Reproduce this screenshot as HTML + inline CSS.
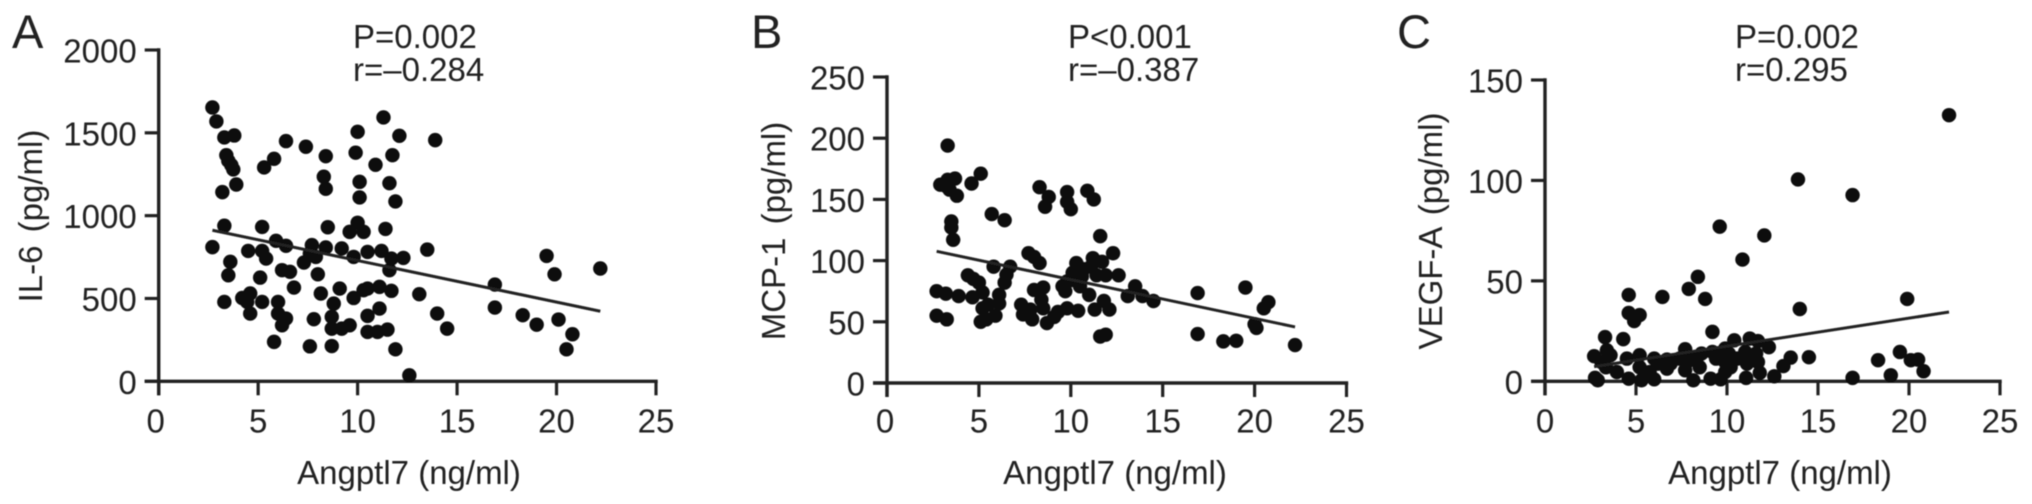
<!DOCTYPE html>
<html lang="en">
<head>
<meta charset="utf-8">
<title>Angptl7 correlation scatter plots</title>
<style>
html,body{margin:0;padding:0;background:#fff;}
svg{display:block;}
text{font-family:"Liberation Sans",Arial,sans-serif;fill:#222;font-size:33px;}
.letter{font-size:47px;}
.ytitle{word-spacing:4px;}
</style>
</head>
<body>
<svg id="figure" xmlns="http://www.w3.org/2000/svg" width="2032" height="504" viewBox="0 0 2032 504">
<defs><filter id="soft" x="-2%" y="-2%" width="104%" height="104%"><feGaussianBlur stdDeviation="0.55"/></filter></defs>
<g filter="url(#soft)">
<g id="panelA">
<text class="letter" x="12" y="48">A</text>
<text x="353" y="48">P=0.002</text>
<text x="353" y="81">r=–0.284</text>
<text class="ytitle" text-anchor="middle" transform="translate(42 216) rotate(-90)">IL-6 (pg/ml)</text>
<text text-anchor="middle" x="409" y="484">Angptl7 (ng/ml)</text>
</g>
<g id="panelB">
<text class="letter" x="751" y="48">B</text>
<text x="1068" y="48">P&lt;0.001</text>
<text x="1068" y="81">r=–0.387</text>
<text class="ytitle" text-anchor="middle" transform="translate(785 231) rotate(-90)">MCP-1 (pg/ml)</text>
<text text-anchor="middle" x="1115" y="484">Angptl7 (ng/ml)</text>
</g>
<g id="panelC">
<text class="letter" x="1397" y="48">C</text>
<text x="1735" y="48">P=0.002</text>
<text x="1735" y="81">r=0.295</text>
<text class="ytitle" text-anchor="middle" transform="translate(1442 231) rotate(-90)">VEGF-A (pg/ml)</text>
<text text-anchor="middle" x="1780" y="484">Angptl7 (ng/ml)</text>
</g>
</g>
</svg>
<script>
const xTicks = [0, 5, 10, 15, 20, 25];

const aTicks = [0, 500, 1000, 1500, 2000];
const aX = [2.7,2.9,3.3,3.8,6.4,7.4,8.4,5.8,5.3,3.4,3.5,3.65,3.75,3.9,3.2,8.3,8.4,11.3,10,12.1,13.9,9.9,11.75,10.9,10.1,11.6,10.1,11.9,3.3,5.2,8.5,10,9.6,10.3,11.4,2.7,4.5,5.2,5.4,5.9,6.4,7.3,7.7,7.6,7.9,8.4,9.2,9.8,10.5,11.2,11.7,12.3,13.5,3.6,3.5,5.1,6.2,6.6,8,11.6,6.8,9.1,11.1,11.7,10.3,8.15,13.1,9.8,10.5,16.9,19.5,19.9,22.2,3.3,4.2,4.6,4.45,5.2,6,8.8,11.1,16.9,4.6,6,6.4,6.2,7.8,8.7,10.5,14,18.3,20.1,19,14.5,8.7,9.2,9.6,10.5,11,11.5,20.8,5.8,7.6,8.7,11.9,20.5,12.6];
const aY = [1653,1569,1472,1484,1450,1416,1359,1343,1291,1365,1331,1305,1279,1188,1142,1235,1162,1593,1506,1482,1456,1380,1365,1307,1204,1196,1110,1086,939,932,930,957,902,902,920,810,787,787,741,848,818,717,822,771,751,808,802,751,781,787,741,745,795,721,640,626,671,661,646,671,566,560,570,546,550,530,526,503,560,584,757,646,681,479,503,530,479,479,479,469,439,445,409,409,379,338,375,389,395,409,399,373,342,318,318,318,338,298,298,312,284,238,211,213,193,193,36];
const aLineX = [2.7, 22.2];
const aLineY = [912, 423];

const bTicks = [0, 50, 100, 150, 200, 250];
const bX = [3.3,5.1,4.6,2.9,3.3,3.7,3.2,3.4,3.8,8.3,8.8,8.6,9.8,9.8,10,10.9,11.25,5.7,6.4,3.5,3.5,3.6,11.6,12.3,7.7,8,8.3,2.7,3.2,3.9,4.65,5.2,2.7,3.25,4.4,4.7,5,5.8,6.7,6.5,6.4,6.1,6.1,5.1,5.4,5.9,5.2,5.5,7.3,7.4,7.9,7.8,8,8.5,8.4,8.5,8.7,9.1,9.3,9.8,10.4,9.7,9.8,10.1,10.3,10.5,11,11.2,10.7,11.7,11.4,11.9,12.6,11.8,11.3,12.1,11.6,11.9,13.1,13.5,13.9,14.5,16.9,16.9,18.3,19,19.5,20.75,20.5,20,20.1,22.2,10,10.6,11.1,9.55];
const bY = [194,171,163,162,166,167,161,158,153,160,152,144,156,148,142,157,150,138,133,132,127,117,120,106,106,103,98,75,73,71,70,74,55,52,88,85,82,95,95,88.5,82,72,65,50,52,55,61,64,64,56,52,60,76,78,68,61,49,54,58,61,59,75,83,90,98,79,72,102,93,99,88,88,88,67,60,60,38,39.5,71,79,71,67,73.5,40,34,34.5,78,66,61,48,45,31,84,87,95,79];
const bLineX = [2.7, 22.2];
const bLineY = [107.6, 45.8];

const cTicks = [0, 50, 100, 150];
const cX = [22.2,13.9,16.9,9.6,12.05,10.85,8.4,7.9,8.8,6.45,4.6,19.9,14,4.6,5.2,4.9,9.2,3.3,4.3,10.4,11.25,11.7,12.3,7.7,3.4,2.7,3.6,4.5,5.2,6,6.7,7.4,8,8.6,9.2,9.9,11,11.6,13.5,14.5,18.3,19.5,20.1,20.5,13.1,20.8,19,16.9,2.75,2.9,3.35,3.95,4.6,5.2,5.3,6,5.75,6.7,7.7,8.15,8.5,9.1,9.65,9.9,9.9,10.2,10.55,11.1,11.05,11.8,12.6,10.1,9.4,11.7,10.9,7.8,6.2,3.1,6.9,8.3];
const cY = [132.5,100.5,92.7,77,72.6,60.6,52,46,41,42,43,41,36,34,33,30,24.6,22,21,20.4,21.3,20,17,16,15.4,12.5,13,11.3,13,11.3,10.8,11.3,12,13.8,14.6,16.3,14.6,13.8,11.8,12,10.5,14.6,10.5,10.8,7.6,5,3,1.7,1.7,0.5,7,4.6,1.3,7,0.5,1,4.6,6.3,5.5,0.5,7,1.3,1,4.6,9.6,7,11.3,8.8,1.7,4.2,2.5,13.8,11.3,9.6,11.3,9.6,8.8,9.6,8.8,10.5];
const cLineX = [2.7, 22.2];
const cLineY = [7.3, 34.5];

const SVG_NS = 'http://www.w3.org/2000/svg';
const INK = '#222';

function line(parent, x1, y1, x2, y2, width) {
  const el = document.createElementNS(SVG_NS, 'line');
  el.setAttribute('x1', x1);
  el.setAttribute('y1', y1);
  el.setAttribute('x2', x2);
  el.setAttribute('y2', y2);
  el.setAttribute('stroke', INK);
  el.setAttribute('stroke-width', width);
  parent.appendChild(el);
  return el;
}

function label(parent, x, y, anchor, content) {
  const el = document.createElementNS(SVG_NS, 'text');
  el.setAttribute('x', x);
  el.setAttribute('y', y);
  el.setAttribute('text-anchor', anchor);
  el.textContent = content;
  parent.appendChild(el);
  return el;
}

function drawPanel(id, frame, yTicks, xs, ys, lineXs, lineYs) {
  const panel = document.getElementById(id);
  const yMax = yTicks[yTicks.length - 1];
  const xMax = xTicks[xTicks.length - 1];
  const sx = v => frame.left + (v / xMax) * (frame.right - frame.left);
  const sy = v => frame.bottom - (v / yMax) * (frame.bottom - frame.top);

  const yAxis = line(panel, sx(0), sy(yMax) - 1.7, sx(0), frame.bottom + 14, 3.4);
  
  
  const xAxis = line(panel, sx(0) - 14, sy(0), sx(xMax) + 1.7, sy(0), 3.4);
  
  

  yTicks.forEach(t => {
    const tick = line(panel, sx(0) - 14, sy(t), sx(0), sy(t), 3.2);
    
    
    const txt = label(panel, frame.left - 22, sy(t) + 12.5, 'end', String(t));
    
    
  });
  xTicks.forEach(t => {
    const tick = line(panel, sx(t), sy(0), sx(t), frame.bottom + 14, 3.2);
    
    
    const txt = label(panel, sx(t) + (t === 0 ? frame.zeroShift : 0), 432.5, 'middle', String(t));
    
    
  });

  xs.forEach((v, i) => {
    const dot = document.createElementNS(SVG_NS, 'circle');
    dot.setAttribute('cx', sx(v));
    dot.setAttribute('cy', sy(ys[i]));
    dot.setAttribute('r', 7.2);
    dot.setAttribute('fill', '#0a0a0a');
    
    
    panel.appendChild(dot);
  });

  const trend = line(panel, sx(lineXs[0]), sy(lineYs[0]), sx(lineXs[1]), sy(lineYs[1]), 3);
  
  
}

drawPanel('panelA', {left: 158.7, right: 656, top: 50, bottom: 381.3, zeroShift: -3}, aTicks, aX, aY, aLineX, aLineY);
drawPanel('panelB', {left: 887, right: 1346.5, top: 77, bottom: 383, zeroShift: -2}, bTicks, bX, bY, bLineX, bLineY);
drawPanel('panelC', {left: 1545, right: 2000, top: 80, bottom: 381.3, zeroShift: 0}, cTicks, cX, cY, cLineX, cLineY);
</script>
</body>
</html>
